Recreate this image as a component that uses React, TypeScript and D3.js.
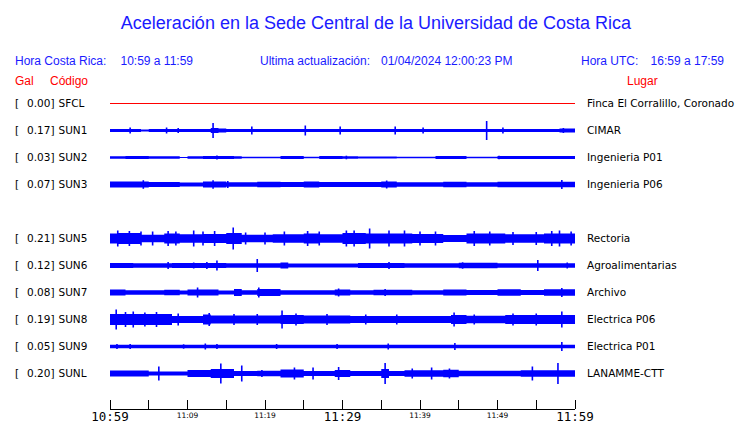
import React from "react";
import * as d3 from "d3";

const W = 740;
const H = 423;

const codes = ["SFCL", "SUN1", "SUN2", "SUN3", "SUN5", "SUN6", "SUN7", "SUN8", "SUN9", "SUNL"];
const gals = ["0.00", "0.17", "0.03", "0.07", "0.21", "0.12", "0.08", "0.19", "0.05", "0.20"];
const places = [
  "Finca El Corralillo, Coronado",
  "CIMAR",
  "Ingenieria P01",
  "Ingenieria P06",
  "Rectoria",
  "Agroalimentarias",
  "Archivo",
  "Electrica P06",
  "Electrica P01",
  "LANAMME-CTT",
];
const rowSlots = [0, 1, 2, 3, 5, 6, 7, 8, 9, 10];

// envelope half-amplitudes, one value per minute (60 minutes)
const envSFCL = [
  0, 0, 0, 0, 0, 0, 0, 0, 0, 0, 0, 0, 0, 0, 0, 0, 0, 0, 0, 0,
  0, 0, 0, 0, 0, 0, 0, 0, 0, 0, 0, 0, 0, 0, 0, 0, 0, 0, 0, 0,
  0, 0, 0, 0, 0, 0, 0, 0, 0, 0, 0, 0, 0, 0, 0, 0, 0, 0, 0, 0,
];
const envSUN1 = [
  1.5, 1.5, 1.5, 1.5, 1, 1.5, 1.5, 1.5, 1.5, 1.5, 1.5, 1.5, 1.5, 2.5, 2, 1.5, 1.5, 1.5, 1.5, 1.5,
  1.5, 1.5, 1.5, 1.5, 1.5, 1.5, 1.5, 1.5, 1.5, 1.5, 1.5, 1.5, 1.5, 1.5, 1.5, 1.5, 1.5, 1.5, 1.5, 1.5,
  1.5, 1.5, 1.5, 1.5, 1.5, 1.5, 1.5, 1.5, 1.5, 1.5, 1.5, 1.5, 1.5, 1.5, 1.5, 1.5, 1.5, 1.5, 2, 2,
];
const envSUN2 = [
  1.2, 1.2, 1.5, 1.5, 1.5, 1.2, 1.2, 1.2, 1.2, 0.5, 1.3, 1.3, 1.5, 1.5, 1.5, 1.5, 1.2, 0.7, 0.7, 0.7,
  0.7, 0.7, 1.4, 1.4, 1.4, 0.8, 0.8, 1.4, 1.4, 1.4, 1.3, 1.3, 1.1, 1.1, 1.1, 1.1, 1.1, 0.7, 0.7, 0.7,
  0.7, 0.7, 1.4, 1.4, 1.4, 1.4, 0.7, 0.7, 0.7, 0.7, 1.4, 1.4, 1.4, 1.4, 1.4, 1.4, 1.4, 1.4, 1.4, 1.4,
];
const envSUN3 = [
  3, 3, 3, 3, 3, 2.5, 2.5, 2.5, 2.5, 2, 2, 2, 3, 3, 3, 2.2, 2.2, 2.2, 2.2, 2.8,
  2.8, 2.8, 2.5, 2.5, 2.5, 3, 3, 2.5, 2.5, 2.5, 2.5, 2.5, 2.5, 2.5, 2.5, 3, 3, 2.3, 2.3, 2.3,
  2.3, 2.3, 2.3, 2.7, 2.7, 2.7, 2.3, 2.3, 2.3, 2.3, 2.8, 2.8, 2.8, 2.8, 2.8, 2.8, 2.8, 2.8, 2.8, 2.8,
];
const envSUN5 = [
  5, 5.5, 5.5, 5.5, 3.8, 3.8, 3.8, 5, 5, 4.2, 4.2, 4.2, 4.5, 4.5, 4.5, 5.5, 5.5, 3.8, 3.8, 3.8,
  3.8, 4.2, 4.2, 4.2, 4.2, 5, 5, 4.2, 4.2, 4.2, 5.5, 5.5, 5.5, 5, 5, 5, 5, 5, 5, 4.5,
  4.5, 4.5, 4.5, 3.5, 3.5, 3.5, 5, 5, 5, 5, 5, 4.2, 4.2, 4.2, 4.2, 4.2, 5, 5, 5, 5,
];
const envSUN6 = [
  2.5, 2.5, 2.5, 2.3, 2.3, 2.3, 2.3, 2.3, 2.5, 2.5, 2.5, 2.5, 2.5, 2.5, 2.5, 2.2, 2.2, 2.2, 2.2, 2.2,
  2.2, 2.2, 3, 2, 2, 2, 2, 2, 2, 2, 2, 2, 2.5, 2.5, 2.5, 2.5, 2.5, 2.5, 2.2, 2.2,
  2.2, 2.2, 2.2, 2.2, 2.2, 2.8, 2.8, 2.8, 2.8, 2.8, 2.2, 2.2, 2.2, 2.2, 2.2, 2.2, 2.2, 2.2, 2.2, 2.2,
];
const envSUN7 = [
  3, 3, 2.3, 2.3, 2.3, 2.3, 2.3, 2.8, 2.8, 2, 3, 3, 3, 3, 2, 2, 3.5, 2.2, 2.2, 3.5,
  3.5, 3.5, 2.3, 2.3, 2.3, 2.3, 2.3, 2.3, 2.3, 3, 3, 2.3, 2.3, 2.3, 2.7, 2.7, 2.7, 2.7, 2.7, 2.2,
  2.2, 2.2, 2.2, 3, 3, 3, 2.5, 2.5, 2.5, 2.5, 3.3, 3.3, 3.3, 2.5, 2.5, 2.5, 3.2, 3.2, 3.2, 3.2,
];
const envSUN8 = [
  5.5, 5.5, 5.5, 5.5, 5.5, 5.5, 5.5, 5.5, 3.5, 3.5, 3.5, 3.5, 5, 4, 4, 4, 4, 4, 4, 4,
  4, 4, 4.5, 4.5, 4.5, 4, 4, 4, 4, 4, 4, 3.5, 3.5, 3.5, 3.5, 3.5, 3.5, 3.5, 3.5, 3.5,
  3.5, 3.5, 3.5, 3.5, 4.5, 4.5, 3.8, 3.8, 3.8, 3.8, 3.8, 4.5, 4.5, 4.5, 4.5, 4.5, 4.5, 4.5, 4.5, 4.5,
];
const envSUN9 = [
  1.7, 1.7, 1.7, 1.7, 1.7, 1.7, 1.7, 1.7, 1.7, 1.7, 1.7, 1.7, 1.7, 1.7, 1.7, 1.7, 1.7, 1.7, 1.7, 1.7,
  1.7, 1.7, 1.7, 1.7, 1.7, 1.7, 1.7, 1.7, 1.7, 1.7, 1.7, 1.7, 1.7, 1.7, 1.7, 1.7, 1.7, 1.7, 1.7, 1.7,
  1.7, 1.7, 1.7, 1.7, 1.7, 1.7, 1.7, 1.7, 1.7, 1.7, 1.7, 1.7, 1.7, 1.7, 1.7, 1.7, 1.7, 1.7, 1.7, 1.7,
];
const envSUNL = [
  3, 3, 3, 3, 3, 2, 2, 2, 2, 2, 3.5, 3.5, 3.5, 4.5, 4.5, 4.5, 2.5, 2.5, 2.5, 2.8,
  2.8, 2.8, 4, 4, 4, 2.5, 2.5, 2.5, 2.5, 3.5, 3.5, 2.5, 2.5, 2.5, 2.5, 4.5, 2.5, 2.5, 3.3, 3.3,
  3.3, 3.3, 3.3, 3.8, 3.8, 2.8, 2.8, 2.8, 2.8, 2.8, 2.8, 2.8, 2.8, 3.2, 3.2, 3.2, 3.2, 3.2, 3.2, 3.2,
];
const envelopes = [envSFCL, envSUN1, envSUN2, envSUN3, envSUN5, envSUN6, envSUN7, envSUN8, envSUN9, envSUNL];

// isolated peaks: [minute, half-amplitude]
const spikesSFCL: [number, number][] = [];
const spikesSUN1: [number, number][] = [
  [2.6, 3], [7.3, 3], [8.8, 2.5], [13.3, 7.5], [18.3, 4], [25.2, 5], [29.7, 4], [36.8, 4], [40.4, 3], [48.6, 9.5], [50.7, 3], [58.5, 2.5],
];
const spikesSUN2: [number, number][] = [[13.8, 2], [30.5, 1.8], [50.2, 1.8]];
const spikesSUN3: [number, number][] = [[4.3, 4.3], [13.3, 4.3], [15.2, 3.5], [35.7, 4], [58.3, 4.5]];
const spikesSUN5: [number, number][] = [
  [1, 8], [2.5, 7.5], [4, 7], [5.5, 7], [7.5, 7.5], [8.5, 7], [10.8, 8], [12, 7], [13.5, 7.5], [15.9, 11], [17.5, 6], [20, 6],
  [22.5, 7], [25.5, 7.5], [27, 7], [30.5, 8], [31.5, 8], [33.5, 10], [36, 8], [38, 8], [40, 7], [42, 7], [47, 7.5], [49, 7],
  [52, 6.5], [55, 6.5], [57, 7.5], [58, 8], [59.5, 7],
];
const spikesSUN6: [number, number][] = [
  [7.5, 3.5], [10.8, 3], [12.5, 3.5], [13.8, 5], [19.0, 6.5], [36, 3.5], [45.5, 3.2], [55.2, 5.5], [59, 3],
];
const spikesSUN7: [number, number][] = [[11.3, 5], [19.2, 5], [29.5, 4], [35.5, 3.5], [58.3, 4.5]];
const spikesSUN8: [number, number][] = [
  [0.8, 10], [2, 7.5], [3, 8], [4.5, 7], [6, 7.5], [8.8, 6], [12.8, 6.5], [16, 5.5], [19, 5.5], [22.2, 9], [24, 6],
  [28, 5.5], [33, 5], [37, 5], [44.4, 7], [47, 5], [52, 6], [55, 6], [58.3, 8],
];
const spikesSUN9: [number, number][] = [
  [0.9, 2.5], [2.6, 2.5], [9.5, 2.2], [12.3, 3], [13.8, 2.5], [21.5, 2.5], [29.3, 2.5], [35.9, 3], [44.5, 3.5], [58.3, 4.5],
];
const spikesSUNL: [number, number][] = [
  [6.3, 7], [14.3, 10], [17, 8], [19.6, 3.5], [23.8, 6], [26.2, 6], [29.5, 6.5], [35.5, 10.5], [39, 5], [41.5, 6], [43.8, 5], [54.5, 7], [57.8, 10.5],
];
const spikes = [spikesSFCL, spikesSUN1, spikesSUN2, spikesSUN3, spikesSUN5, spikesSUN6, spikesSUN7, spikesSUN8, spikesSUN9, spikesSUNL];

const tickMinutes = [0, 5, 10, 15, 20, 25, 30, 35, 40, 45, 50, 55, 60];
const tickLabels = ["10:59", "", "11:09", "", "11:19", "", "11:29", "", "11:39", "", "11:49", "", "11:59"];
const bigLabels = ["10:59", "11:29", "11:59"];

const BLUE = "#0000ff";
const TEXT_BLUE = "#1a1aff";
const RED = "#ff0000";
const SANS = "'Liberation Sans', Arial, Helvetica, sans-serif";
const DEJAVU = "'DejaVu Sans', sans-serif";

export default function App() {
  const x = d3.scaleLinear().domain([0, 60]).range([110, 575]);
  const rowY = d3.scaleLinear().domain([0, 10]).range([103.5, 373.5]);
  const amp = d3.scaleLinear().domain([0, 1]).range([0, 1]);

  return (
    <svg width={W} height={H} style={{ position: "absolute", left: 0, top: 0, background: "#fff" }}>
      <text x={376} y={29} textAnchor="middle" fontFamily={SANS} fontSize={18} fill={TEXT_BLUE}>
        Aceleración en la Sede Central de la Universidad de Costa Rica
      </text>
      <g fontFamily={SANS} fontSize={12} fill={TEXT_BLUE}>
        <text x={15} y={64.5}>Hora Costa Rica:</text>
        <text x={120.5} y={64.5}>10:59 a 11:59</text>
        <text x={260} y={64.5}>Ultima actualización:</text>
        <text x={381} y={64.5}>01/04/2024 12:00:23 PM</text>
        <text x={581} y={64.5}>Hora UTC:</text>
        <text x={724} y={64.5} textAnchor="end">16:59 a 17:59</text>
      </g>
      <g fontFamily={SANS} fontSize={12} fill={RED}>
        <text x={15} y={84.5}>Gal</text>
        <text x={50} y={84.5}>Código</text>
        <text x={627} y={84.5}>Lugar</text>
      </g>

      {codes.map((code, i) => {
        const cy = rowY(rowSlots[i]);
        const env = envelopes[i];
        const pts = env.map((v, k) => [k, v] as [number, number]).concat([[60, env[env.length - 1]]]);
        const area = d3
          .area<[number, number]>()
          .x((d) => x(d[0]))
          .y0((d) => cy + amp(d[1]))
          .y1((d) => cy - amp(d[1]))
          .curve(d3.curveStepAfter);
        const isFlat = d3.max(env) === 0;
        return (
          <g key={code}>
            <g fontFamily={DEJAVU} fontSize={10.5} fill="#000">
              <text x={15} y={cy} dy="0.36em">[</text>
              <text x={54.5} y={cy} dy="0.36em" textAnchor="end">{gals[i] + "]"}</text>
              <text x={58.5} y={cy} dy="0.36em">{code}</text>
              <text x={587} y={cy} dy="0.36em">{places[i]}</text>
            </g>
            {isFlat ? (
              <line x1={x(0)} x2={x(60)} y1={cy} y2={cy} stroke={RED} strokeWidth={1} shapeRendering="crispEdges" />
            ) : (
              <g>
                <path d={area(pts) || ""} fill={BLUE} stroke="none" />
                {spikes[i].map(([m, a], k) => (
                  <line key={k} x1={x(m)} x2={x(m)} y1={cy - amp(a)} y2={cy + amp(a)} stroke={BLUE} strokeWidth={1.6} />
                ))}
              </g>
            )}
          </g>
        );
      })}

      <g>
        <line x1={x(0)} x2={x(60)} y1={409} y2={409} stroke="#000" strokeWidth={1} shapeRendering="crispEdges" />
        {tickMinutes.map((m, i) => (
          <g key={m}>
            <line x1={x(m)} x2={x(m)} y1={400} y2={409} stroke="#000" strokeWidth={1} shapeRendering="crispEdges" />
            {tickLabels[i] !== "" &&
              (bigLabels.includes(tickLabels[i]) ? (
                <text x={x(m)} y={421} textAnchor="middle" fontFamily="'DejaVu Sans Mono', monospace" fontSize={12.5} fill="#000">
                  {tickLabels[i]}
                </text>
              ) : (
                <text x={x(m)} y={417.5} textAnchor="middle" fontFamily={DEJAVU} fontSize={7.5} fill="#000">
                  {tickLabels[i]}
                </text>
              ))}
          </g>
        ))}
      </g>
    </svg>
  );
}
